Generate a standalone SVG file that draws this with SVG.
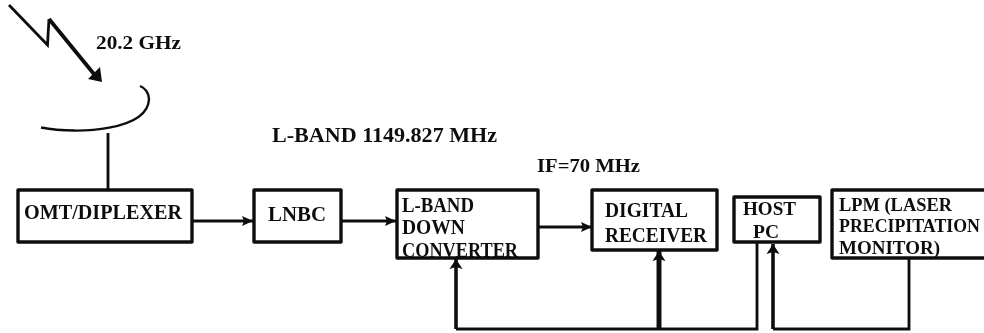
<svg xmlns="http://www.w3.org/2000/svg" width="984" height="333" viewBox="0 0 984 333">
<style>
text{font-family:"Liberation Serif","Times New Roman",serif;font-weight:bold;fill:#111}
.box{fill:#fff;stroke:#111;stroke-width:3.4;stroke-linejoin:round}
.c{fill:none;stroke:#111;stroke-width:2.8}
.v{fill:none;stroke:#111;stroke-width:3.6}
.t{font-size:20px}
.s{font-size:19px}
</style>
<defs>
<filter id="soft" x="0" y="0" width="984" height="333" filterUnits="userSpaceOnUse"><feGaussianBlur stdDeviation="0.45"/></filter>
<marker id="a" markerUnits="userSpaceOnUse" markerWidth="14" markerHeight="12" refX="11" refY="6" orient="auto"><path d="M0,1L11,6L0,11L2,6Z" fill="#111"/></marker>
<marker id="u" markerUnits="userSpaceOnUse" markerWidth="14" markerHeight="14" refX="10" refY="7" orient="auto"><path d="M0,0.5L10,7L0,13.5L2,7Z" fill="#111"/></marker>
</defs>
<g filter="url(#soft)">
<g id="connectors">
<path d="M9,5L47.5,45L49,19" fill="none" stroke="#111" stroke-width="2.8"/>
<path d="M49,19L98,79" fill="none" stroke="#111" stroke-width="3.8"/>
<path d="M88,79L102,82L100,67Z" fill="#111"/>
<path d="M41,127.5C80,135 148,130 149,99C149,93 145,88 140,86" fill="none" stroke="#111" stroke-width="2.4"/>
<path d="M108,133V190" class="c"/>
<path d="M192,221H253" class="c" marker-end="url(#a)"/>
<path d="M341,221H396" class="c" marker-end="url(#a)"/>
<path d="M538,227H592" class="c" marker-end="url(#a)"/>
<path d="M757,243V329H456" class="c"/>
<path d="M456,329V259" class="v" marker-end="url(#u)"/>
<path d="M659,329V251" class="v" style="stroke-width:5" marker-end="url(#u)"/>
<path d="M909,258V329H773" class="c"/>
<path d="M773,329V244" class="v" marker-end="url(#u)"/>
</g>
<g id="n1"><rect class="box" x="18" y="190" width="174" height="52"/><text class="t" x="24" y="219" textLength="158" lengthAdjust="spacingAndGlyphs">OMT/DIPLEXER</text></g>
<g id="n2"><rect class="box" x="254" y="190" width="87" height="52"/><text class="t" x="268" y="221" textLength="58" lengthAdjust="spacingAndGlyphs">LNBC</text></g>
<g id="n3"><rect class="box" x="397" y="190" width="141" height="68"/><text class="t" x="402" y="212" textLength="72" lengthAdjust="spacingAndGlyphs">L-BAND</text><text class="t" x="402" y="234" textLength="63" lengthAdjust="spacingAndGlyphs">DOWN</text><text class="t" x="402" y="257" textLength="116" lengthAdjust="spacingAndGlyphs">CONVERTER</text></g>
<g id="n4"><rect class="box" x="592" y="190" width="125" height="60"/><text class="t" x="605" y="217" textLength="83" lengthAdjust="spacingAndGlyphs">DIGITAL</text><text class="t" x="605" y="242" textLength="102" lengthAdjust="spacingAndGlyphs">RECEIVER</text></g>
<g id="n5"><rect class="box" x="734" y="197" width="86" height="45"/><text class="s" x="743" y="215" textLength="53" lengthAdjust="spacingAndGlyphs">HOST</text><text class="s" x="753" y="238" textLength="26" lengthAdjust="spacingAndGlyphs">PC</text></g>
<g id="n6"><rect class="box" x="832" y="190" width="156" height="68"/><text class="s" x="839" y="211" textLength="113" lengthAdjust="spacingAndGlyphs">LPM (LASER</text><text x="839" y="232" font-size="18" textLength="141" lengthAdjust="spacingAndGlyphs">PRECIPITATION</text><text class="s" x="839" y="254" textLength="101" lengthAdjust="spacingAndGlyphs">MONITOR)</text></g>
<g id="labels">
<text class="s" x="96" y="49" textLength="85" lengthAdjust="spacingAndGlyphs">20.2 GHz</text>
<text class="t" x="272" y="142" textLength="225" lengthAdjust="spacingAndGlyphs">L-BAND 1149.827 MHz</text>
<text class="s" x="537" y="172" textLength="103" lengthAdjust="spacingAndGlyphs">IF=70 MHz</text>
</g>
</g>
</svg>
